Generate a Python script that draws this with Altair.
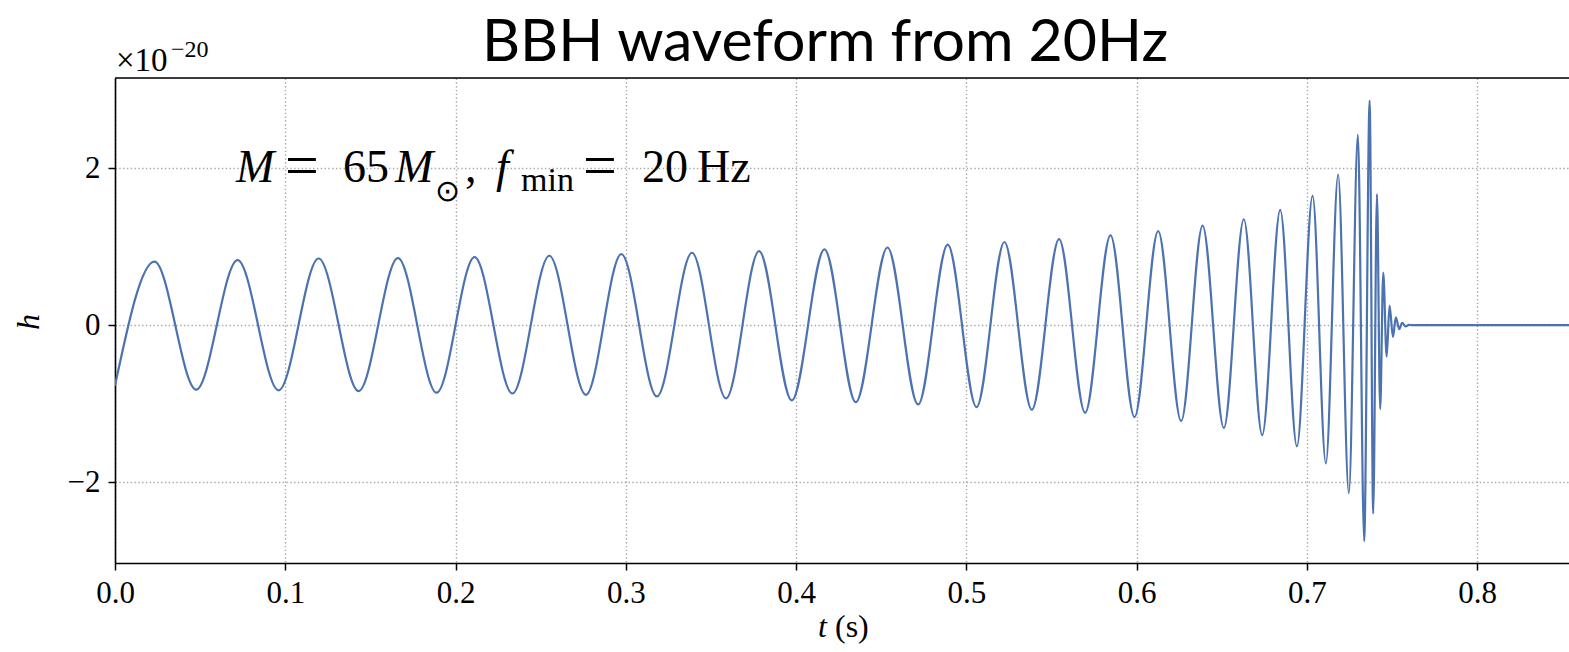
import altair as alt
import pandas as pd

# Extrema of the waveform (t in s, h in units of 1e-20)
t_vals = [0.0, 0.0232, 0.0477, 0.0720, 0.0961, 0.1196, 0.1431, 0.1662, 0.1889, 0.2112,
          0.2334, 0.2551, 0.2766, 0.2974, 0.3183, 0.3389, 0.3589, 0.3783, 0.3975, 0.4167,
          0.4351, 0.4537, 0.4717, 0.4891, 0.5060, 0.5224, 0.5385, 0.5545, 0.5698, 0.5847,
          0.5988, 0.6127, 0.6262, 0.6388, 0.6513, 0.6630, 0.6738, 0.6844, 0.6942, 0.7034,
          0.7112, 0.7184, 0.7247, 0.7300, 0.7337, 0.7369, 0.7390, 0.7412, 0.7431, 0.7449,
          0.7469, 0.7486, 0.7506, 0.7523, 0.7543, 0.7560, 0.7580, 0.7600, 0.7625, 0.8540]
h_vals = [-0.77, 0.81, -0.82, 0.83, -0.83, 0.85, -0.84, 0.856, -0.86, 0.868,
          -0.87, 0.885, -0.887, 0.907, -0.907, 0.923, -0.932, 0.945, -0.958, 0.967,
          -0.98, 0.99, -1.01, 1.026, -1.043, 1.06, -1.077, 1.098, -1.115, 1.145,
          -1.17, 1.20, -1.22, 1.27, -1.31, 1.35, -1.40, 1.47, -1.545, 1.65,
          -1.76, 1.92, -2.14, 2.43, -2.75, 2.86, -2.40, 1.67, -1.07, 0.67,
          -0.40, 0.25, -0.15, 0.10, -0.05, 0.03, -0.015, 0.005, 0.0, 0.0]

x_ticks = [0.0, 0.1, 0.2, 0.3, 0.4, 0.5, 0.6, 0.7, 0.8]
y_ticks = [-2, 0, 2]

W, H = 1454, 485
SERIF = "Liberation Serif"
BLUE = "#4c72b0"

df = pd.DataFrame({"t": t_vals, "h": h_vals})
dummy = pd.DataFrame({"a": [0]})

grid_kw = dict(grid=True, gridColor="#a8a8a8", gridDash=[1.4, 2.4], gridWidth=1.4,
               domainColor="black", domainWidth=1.6, tickColor="black", tickWidth=1.5,
               tickSize=7, labelFont=SERIF, labelFontSize=31, labelColor="black",
               labelFlush=False, title=None)

line = alt.Chart(df).mark_line(color=BLUE, strokeWidth=2.2, interpolate="monotone", clip=True).encode(
    x=alt.X("t:Q", scale=alt.Scale(domain=[0, 0.854], nice=False, zero=False),
            axis=alt.Axis(values=x_ticks, format=".1f", labelPadding=8, **grid_kw)),
    y=alt.Y("h:Q", scale=alt.Scale(domain=[-3.03, 3.15], nice=False, zero=False),
            axis=alt.Axis(values=y_ticks, format="d", labelPadding=8, **grid_kw)),
)

top_spine = alt.Chart(dummy).mark_rule(color="black", strokeWidth=1.6).encode(
    x=alt.value(0), x2=alt.value(W), y=alt.value(0))


def txt(text, x, y, size, font=SERIF, style="normal", align="left", baseline="alphabetic", angle=0):
    kw = dict(text=text, fontSize=size, font=font, fontStyle=style, align=align,
              baseline=baseline, color="black")
    if angle:
        kw["angle"] = angle
    return alt.Chart(dummy).mark_text(**kw).encode(x=alt.value(x), y=alt.value(y))


# annotation segments: (text, x px from plot left, baseline px from plot top, size, style, font)
ann = [
    ("M", 121, 104, 46, "italic", SERIF),
    ("=", 170, 107, 60, "normal", SERIF),
    ("65", 228, 104, 46, "normal", SERIF),
    ("M", 280, 104, 46, "italic", SERIF),
    ("\u2299", 320, 123, 30, "normal", SERIF),
    (",", 350, 104, 46, "normal", SERIF),
    ("f", 381, 104, 46, "italic", SERIF),
    ("min", 406, 113, 34, "normal", SERIF),
    ("=", 468, 107, 60, "normal", SERIF),
    ("20", 527, 104, 46, "normal", SERIF),
    ("Hz", 582, 104, 46, "normal", SERIF),
]
ann_layers = [txt(s, x, y, sz, style=st, font=f) for (s, x, y, sz, st, f) in ann]

texts = [
    txt("BBH waveform from 20Hz", 710, -17, 59, font="Lato", align="center"),
    txt("\u00d710", 1, -7, 33),
    txt("\u221220", 56, -21, 24),
    txt("h", -86, 244, 32, style="italic", align="center", baseline="middle", angle=270),
    txt("t", 703, 559, 32, style="italic"),
    txt("(s)", 720, 559, 32),
]

chart = alt.layer(line, top_spine, *ann_layers, *texts).properties(
    width=W, height=H,
    autosize=alt.AutoSizeParams(type="none"),
    padding={"left": 115, "top": 78, "right": 0, "bottom": 89},
).configure_view(stroke=None).configure(background="white")

chart.save("out.html", embed_options={"renderer": "svg", "actions": False})
